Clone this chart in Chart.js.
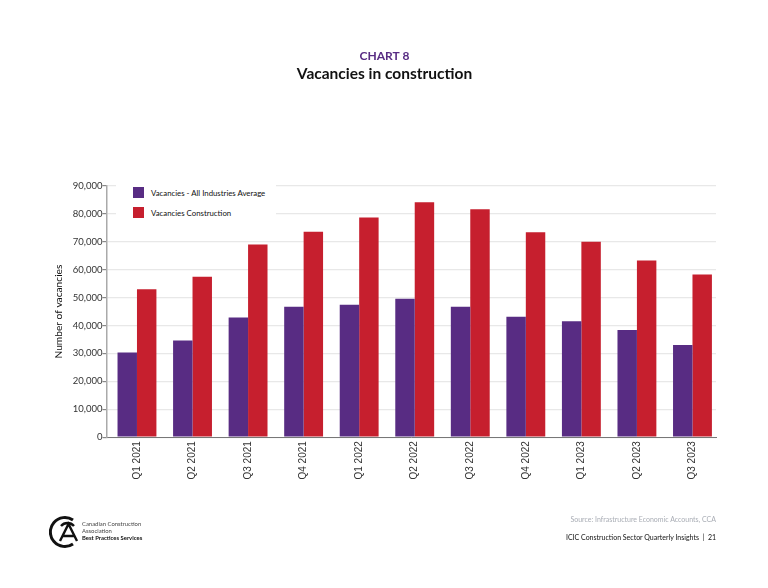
<!DOCTYPE html>
<html><head><meta charset="utf-8">
<script src="https://cdn.jsdelivr.net/npm/chart.js@4/dist/chart.umd.min.js"></script>
<style>
html,body{margin:0;padding:0;background:#fff;width:768px;height:588px;overflow:hidden;font-family:Lato,sans-serif}
#wrap{position:relative;width:768px;height:588px}
canvas{position:absolute;left:0;top:0}
#legend{position:absolute;left:116px;top:178px;width:160px;height:44px;background:#fff;font-size:7.8px;color:#111}
.li{position:absolute;left:17px;line-height:10px;white-space:nowrap;padding-left:18px}
.li i{position:absolute;left:0;top:-1px;width:11px;height:11px}
.t{position:absolute;white-space:nowrap}
</style></head><body>
<div id="wrap">
<canvas id="c" width="768" height="588"></canvas>
<div id="legend"></div>
<svg style="position:absolute;left:49px;top:515px" width="32" height="34" viewBox="0 0 32 34">
<path d="M24 5 A14.5 14.5 0 1 0 24 29" fill="none" stroke="#111" stroke-width="3"/>
<path d="M25 11 A8.5 8.5 0 0 0 12 11 M11 26 L19.5 9 L28 26 M13.5 21 H25" fill="none" stroke="#111" stroke-width="2.4"/>
</svg>
<div class="t" style="left:82px;top:521px;font-size:5.9px;line-height:6.8px;color:#444">Canadian Construction<br>Association<br><b style="color:#111">Best Practices Services</b></div>
<div class="t" style="right:52px;top:515px;font-size:7px;color:#a9adb5">Source: Infrastructure Economic Accounts, CCA</div>
<div class="t" style="right:52px;top:533px;font-size:7px;color:#111">ICIC Construction Sector Quarterly Insights &nbsp;|&nbsp; 21</div>
</div>
<script>
const categories=["Q1 2021","Q2 2021","Q3 2021","Q4 2021","Q1 2022","Q2 2022","Q3 2022","Q4 2022","Q1 2023","Q2 2023","Q3 2023"];
const allIndustries=[30300,34600,42900,46700,47400,49600,46700,43100,41500,38400,33000];
const construction=[53000,57500,69000,73600,78700,84200,81700,73400,70000,63300,58300];
const seriesNames=["Vacancies - All Industries Average","Vacancies Construction"];
const seriesColors=["#582c83","#c61f2e"];
const chartLabel="CHART 8";
const chartTitle="Vacancies in construction";
const yTitle="Number of vacancies";

const legend=document.getElementById('legend');
seriesNames.forEach((n,i)=>{
  const d=document.createElement('div');d.className='li';d.style.top=(10+i*19.5)+'px';
  d.innerHTML='<i style="background:'+seriesColors[i]+'"></i>'+n;legend.appendChild(d);
});
Chart.defaults.font.family="Lato";
// The reference's category bands sit slightly off-centre in the plot area
const bandInset={id:'bandInset',beforeDatasetsUpdate(chart){
  const x=chart.scales.x;x._startValue=-0.5495;x._valueRange=10.973;
}};
new Chart(document.getElementById('c'),{
  type:'bar',
  plugins:[bandInset],
  data:{labels:categories,datasets:[
    {label:seriesNames[0],data:allIndustries,backgroundColor:seriesColors[0]},
    {label:seriesNames[1],data:construction,backgroundColor:seriesColors[1]}
  ]},
  options:{
    responsive:false,animation:false,devicePixelRatio:1,
    layout:{padding:{left:53,right:52,top:49,bottom:104.5}},
    datasets:{bar:{categoryPercentage:0.7,barPercentage:1}},
    plugins:{
      legend:{display:false},tooltip:{enabled:false},
      title:{display:true,text:chartLabel,color:'#582c83',font:{size:12,weight:'bold'},padding:{top:0,bottom:1}},
      subtitle:{display:true,text:chartTitle,color:'#111',font:{size:15.5,weight:'bold'},padding:{top:0,bottom:103}}
    },
    scales:{
      x:{grid:{display:false,drawTicks:false},border:{color:'#777',width:1},
         ticks:{color:'#333',font:{family:'Liberation Sans',size:10},maxRotation:90,minRotation:90,padding:4}},
      y:{min:0,max:90000,
         grid:{color:'#e8e8e8',tickColor:'#888',tickLength:4,lineWidth:1.2},
         border:{color:'#aaa',width:1.5},
         title:{display:true,text:yTitle,color:'#111',font:{size:10.2},padding:{top:0,bottom:7.5}},
         ticks:{stepSize:10000,color:'#333',font:{size:9.5},padding:0,
           callback:v=>v.toLocaleString('en-US')}}
    }
  }
});
</script>
</body></html>
